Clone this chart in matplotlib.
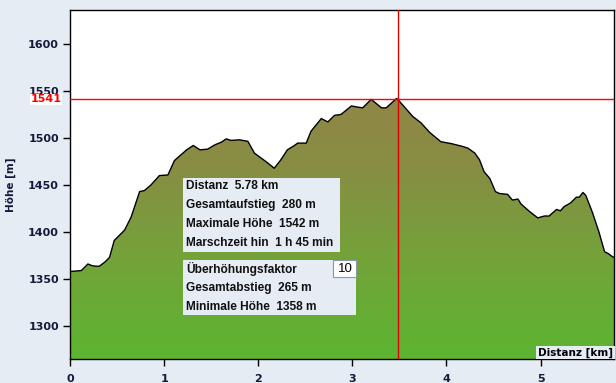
import matplotlib
matplotlib.use("Agg")
import matplotlib.pyplot as plt
import numpy as np
from matplotlib.colors import LinearSegmentedColormap
from matplotlib.patches import Polygon, Rectangle

dist_km = [0.0, 0.12, 0.19, 0.24, 0.31, 0.37, 0.42, 0.47, 0.58, 0.65, 0.74, 0.79, 0.86,
           0.95, 1.04, 1.11, 1.24, 1.31, 1.38, 1.46, 1.54, 1.61, 1.66, 1.71, 1.80, 1.89,
           1.96, 2.08, 2.17, 2.24, 2.31, 2.37, 2.42, 2.51, 2.56, 2.67, 2.74, 2.81, 2.88,
           2.99, 3.06, 3.11, 3.20, 3.31, 3.36, 3.47, 3.50, 3.64, 3.73, 3.82, 3.94, 4.05,
           4.17, 4.23, 4.30, 4.35, 4.40, 4.46, 4.52, 4.56, 4.65, 4.70, 4.76, 4.79, 4.88,
           4.97, 5.04, 5.09, 5.17, 5.21, 5.25, 5.32, 5.38, 5.41, 5.45, 5.48, 5.55, 5.62,
           5.68, 5.72, 5.76, 5.78]
hoehe_m = [1358, 1359, 1366, 1364, 1363.5, 1368, 1373, 1391, 1402, 1416, 1443, 1444, 1450,
           1460, 1460.6, 1476, 1487.4, 1492, 1487.4, 1488, 1492.7, 1495.6, 1499, 1497.4, 1498, 1496.4,
           1483.8, 1475, 1467.8, 1476.7, 1487.4, 1491, 1494.5, 1494.5, 1507, 1520.6, 1517, 1524, 1525,
           1534, 1532.7, 1532, 1541, 1532, 1532, 1542, 1539, 1523, 1516, 1506, 1496, 1494,
           1491, 1489, 1484, 1477, 1464, 1457, 1443, 1441, 1440, 1434, 1435, 1430, 1422,
           1415, 1417, 1417, 1424, 1422.5, 1427, 1431, 1437, 1437, 1442, 1439, 1421, 1400,
           1379, 1377, 1374, 1373]

x_ticks = [0, 1, 2, 3, 4, 5]
y_ticks = [1300, 1350, 1400, 1450, 1500, 1550, 1600]
marker_hoehe = 1541
marker_dist = 3.48

info_lines_1 = ["Distanz  5.78 km", "Gesamtaufstieg  280 m", "Maximale Höhe  1542 m",
                "Marschzeit hin  1 h 45 min"]
info_lines_2 = ["Überhöhungsfaktor", "Gesamtabstieg  265 m", "Minimale Höhe  1358 m"]
faktor = "10"

BG = "#e5ecf3"
NAVY = "#141a3c"
plt.rcParams['font.family'] = ['DejaVu Sans']

fig = plt.figure(figsize=(6.16, 3.83), dpi=100, facecolor=BG)
ax = fig.add_axes([70/616, 24/383, 544/616, 349/383])
ax.set_facecolor("white")
xmin, xmax = 0, 5.78
ymin, ymax = 1265, 1636
ax.set_xlim(xmin, xmax)
ax.set_ylim(ymin, ymax)

# gradient fill
cmap = LinearSegmentedColormap.from_list(
    "g", [(0.0, "#5cb531"), (0.4, "#74a23a"), (0.72, "#878e43"), (1.0, "#928647")])
grad = np.linspace(0, 1, 256).reshape(-1, 1)
top = max(hoehe_m)
im = ax.imshow(grad, cmap=cmap, aspect="auto", origin="lower",
               extent=[xmin, xmax, ymin, top], zorder=1)
verts = [(dist_km[0], ymin)] + list(zip(dist_km, hoehe_m)) + [(dist_km[-1], ymin)]
poly = Polygon(verts, closed=True, facecolor="none", edgecolor="none")
ax.add_patch(poly)
im.set_clip_path(poly)
ax.plot([dist_km[0]] + dist_km, [ymin] + hoehe_m, color="black", lw=1.0, zorder=3)

ax.axhline(marker_hoehe, color="#ff0000", lw=1.0, zorder=4)
ax.axvline(marker_dist, color="#e00000", lw=1.0, zorder=4)

ax.set_xticks(x_ticks)
ax.set_yticks(y_ticks)
ax.tick_params(direction="out", length=5, width=1, colors="black", labelcolor=NAVY,
               labelsize=8)
for lab in ax.get_xticklabels() + ax.get_yticklabels():
    lab.set_fontweight("bold")
ax.tick_params(axis="y", pad=3)
ax.tick_params(axis="x", pad=6)
for s in ax.spines.values():
    s.set_linewidth(1.0)
    s.set_color("black")

ax.set_ylabel("Höhe [m]", fontsize=7.5, fontweight="bold", color=NAVY, labelpad=9)

ax.text(-0.09, marker_hoehe, str(marker_hoehe), transform=ax.transData, ha="right",
        va="center", color="#ff0000", fontsize=8, fontweight="bold",
        bbox=dict(facecolor="white", edgecolor="none", pad=0.6), clip_on=False, zorder=10)

ax.text(0.998, 0.004, "Distanz [km]", transform=ax.transAxes, ha="right", va="bottom",
        fontsize=7.5, fontweight="bold", color="black",
        bbox=dict(facecolor=BG, edgecolor="none", pad=1.2), zorder=6)


def px(x, y):
    return (x / 616, 1 - y / 383)


r1 = Rectangle(px(183, 252), 157/616, 74/383, transform=fig.transFigure,
               facecolor=BG, edgecolor="none", zorder=5)
r2 = Rectangle(px(183, 315), 173/616, 55/383, transform=fig.transFigure,
               facecolor=BG, edgecolor="none", zorder=5)
r3 = Rectangle(px(333, 277), 23/616, 17/383, transform=fig.transFigure,
               facecolor="white", edgecolor="#8899aa", lw=0.8, zorder=6)
for r in (r1, r2, r3):
    fig.add_artist(r)

ys1 = [186, 205, 224, 243]
for t, y in zip(info_lines_1, ys1):
    fig.text(186/616, 1 - y/383, t, ha="left", va="center", fontsize=8.6,
             fontweight="bold", color="#111111", zorder=7, family="Liberation Sans")
ys2 = [269, 288, 307]
for t, y in zip(info_lines_2, ys2):
    fig.text(186/616, 1 - y/383, t, ha="left", va="center", fontsize=8.6,
             fontweight="bold", color="#111111", zorder=7, family="Liberation Sans")
fig.text(353/616, 1 - 269/383, faktor, ha="right", va="center", fontsize=9.5,
         color="black", zorder=7, family="Liberation Sans")

fig.savefig("out.png", dpi=100, facecolor=BG)
